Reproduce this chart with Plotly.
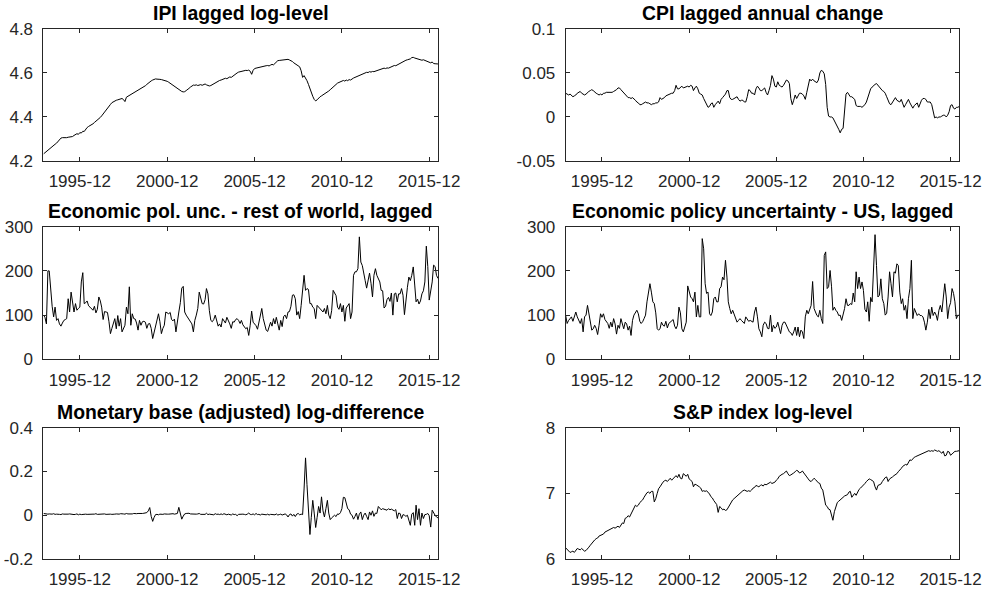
import plotly.graph_objects as go
import pandas as pd

# ---------------- data (monthly, 1993-11 .. 2016-06) ----------------
start_month = "1993-11-01"
n_months = 272
dates = pd.date_range(start_month, periods=n_months, freq="MS")

ipi = [4.232, 4.238,
       4.243, 4.249, 4.254, 4.260, 4.265, 4.270, 4.276, 4.281, 4.289, 4.297, 4.304, 4.306,
       4.305, 4.307, 4.306, 4.308, 4.309, 4.312, 4.311, 4.316, 4.322, 4.324, 4.321, 4.329,
       4.327, 4.335, 4.334, 4.344, 4.352, 4.357, 4.360, 4.364, 4.369, 4.375, 4.380, 4.386,
       4.389, 4.398, 4.405, 4.413, 4.420, 4.428, 4.437, 4.447, 4.457, 4.465, 4.470, 4.474,
       4.476, 4.478, 4.480, 4.482, 4.484, 4.479, 4.470, 4.490, 4.494, 4.498, 4.502, 4.506,
       4.510, 4.514, 4.518, 4.520, 4.525, 4.528, 4.532, 4.536, 4.542, 4.548, 4.555, 4.560,
       4.564, 4.568, 4.571, 4.573, 4.572, 4.570, 4.571, 4.570, 4.568, 4.569, 4.566, 4.562,
       4.558, 4.553, 4.548, 4.543, 4.538, 4.533, 4.528, 4.525, 4.520, 4.516, 4.514, 4.515,
       4.520, 4.524, 4.530, 4.536, 4.540, 4.545, 4.544, 4.546, 4.543, 4.545, 4.547, 4.544,
       4.548, 4.550, 4.546, 4.542, 4.541, 4.543, 4.547, 4.550, 4.556, 4.560, 4.563, 4.566,
       4.568, 4.570, 4.572, 4.576, 4.574, 4.579, 4.582, 4.580, 4.586, 4.590, 4.595, 4.600,
       4.604, 4.606, 4.609, 4.608, 4.610, 4.612, 4.611, 4.613, 4.608, 4.594, 4.612, 4.620,
       4.622, 4.624, 4.626, 4.628, 4.630, 4.629, 4.632, 4.633, 4.634, 4.632, 4.636, 4.639,
       4.637, 4.644, 4.652, 4.656, 4.657, 4.658, 4.659, 4.660, 4.658, 4.660, 4.662, 4.659,
       4.656, 4.652, 4.646, 4.642, 4.637, 4.634, 4.628, 4.610, 4.580, 4.588, 4.578, 4.565,
       4.548, 4.528, 4.508, 4.494, 4.480, 4.473, 4.478, 4.486, 4.492, 4.496, 4.500, 4.503,
       4.507, 4.512, 4.518, 4.524, 4.530, 4.536, 4.544, 4.549, 4.554, 4.557, 4.560, 4.561,
       4.566, 4.563, 4.568, 4.565, 4.570, 4.568, 4.574, 4.577, 4.580, 4.583, 4.586, 4.590,
       4.592, 4.595, 4.598, 4.600, 4.603, 4.602, 4.606, 4.604, 4.607, 4.606, 4.608, 4.612,
       4.614, 4.617, 4.619, 4.620, 4.622, 4.620, 4.623, 4.622, 4.626, 4.630, 4.632, 4.634,
       4.633, 4.637, 4.640, 4.645, 4.648, 4.652, 4.655, 4.658, 4.660, 4.662, 4.664, 4.670,
       4.671, 4.668, 4.666, 4.664, 4.661, 4.660, 4.658, 4.660, 4.657, 4.654, 4.652, 4.648,
       4.646, 4.650, 4.643, 4.642, 4.640, 4.641]

cpi = [0.027, 0.026,
       0.025, 0.026, 0.024, 0.023, 0.024, 0.025, 0.027, 0.028, 0.029, 0.027, 0.026, 0.025,
       0.026, 0.028, 0.029, 0.030, 0.031, 0.030, 0.028, 0.027, 0.026, 0.025, 0.026, 0.025,
       0.027, 0.027, 0.028, 0.028, 0.028, 0.028, 0.028, 0.029, 0.030, 0.031, 0.033, 0.033,
       0.031, 0.029, 0.027, 0.025, 0.023, 0.022, 0.022, 0.021, 0.022, 0.021, 0.019, 0.017,
       0.016, 0.014, 0.014, 0.015, 0.016, 0.017, 0.016, 0.016, 0.015, 0.014, 0.015, 0.015,
       0.016, 0.016, 0.017, 0.022, 0.020, 0.021, 0.022, 0.024, 0.025, 0.025, 0.026, 0.027,
       0.027, 0.030, 0.036, 0.032, 0.032, 0.034, 0.035, 0.033, 0.034, 0.034, 0.035, 0.034,
       0.036, 0.035, 0.030, 0.033, 0.035, 0.032, 0.027, 0.026, 0.025, 0.021, 0.018, 0.015,
       0.011, 0.012, 0.015, 0.016, 0.011, 0.014, 0.016, 0.018, 0.015, 0.020, 0.022, 0.024,
       0.026, 0.030, 0.030, 0.022, 0.020, 0.020, 0.021, 0.022, 0.023, 0.020, 0.018, 0.019,
       0.019, 0.017, 0.017, 0.023, 0.031, 0.030, 0.027, 0.027, 0.025, 0.032, 0.035, 0.033,
       0.030, 0.030, 0.031, 0.033, 0.028, 0.025, 0.030, 0.036, 0.047, 0.043, 0.035, 0.034,
       0.040, 0.036, 0.035, 0.034, 0.036, 0.039, 0.042, 0.041, 0.038, 0.021, 0.014, 0.019,
       0.025, 0.021, 0.024, 0.027, 0.027, 0.026, 0.024, 0.020, 0.028, 0.036, 0.043, 0.041,
       0.043, 0.041, 0.040, 0.039, 0.042, 0.050, 0.053, 0.052, 0.049, 0.037, 0.011, 0.001,
       0.000, 0.000, -0.001, -0.004, -0.007, -0.010, -0.014, -0.018, -0.014, -0.013, 0.005, 0.026,
       0.028, 0.026, 0.023, 0.023, 0.022, 0.020, 0.013, 0.012, 0.012, 0.012, 0.011, 0.012,
       0.014, 0.017, 0.021, 0.027, 0.032, 0.034, 0.036, 0.037, 0.038, 0.036, 0.034, 0.031,
       0.030, 0.029, 0.027, 0.023, 0.018, 0.015, 0.014, 0.017, 0.020, 0.022, 0.019, 0.018,
       0.017, 0.020, 0.015, 0.011, 0.014, 0.017, 0.020, 0.016, 0.012, 0.010, 0.013, 0.015,
       0.016, 0.011, 0.015, 0.019, 0.021, 0.021, 0.020, 0.017, 0.017, 0.017, 0.014, 0.008,
       -0.001, 0.000, -0.001, 0.000, 0.000, 0.001, 0.002, 0.002, 0.000, 0.002, 0.006, 0.013,
       0.014, 0.010, 0.009, 0.011, 0.011, 0.012]

epu_row = [100, 95,
           80, 200, 200, 150, 120, 96, 118, 88, 92, 80, 75, 82,
           88, 90, 92, 137, 107, 152, 130, 107, 126, 111, 115, 118,
           175, 196, 126, 128, 132, 121, 118, 113, 111, 120, 105, 113,
           141, 132, 118, 90, 108, 107, 106, 85, 58, 70, 80, 92,
           69, 99, 75, 92, 62, 70, 77, 118, 103, 164, 77, 103,
           92, 91, 82, 66, 88, 77, 85, 86, 84, 70, 80, 81,
           70, 47, 60, 75, 90, 103, 85, 58, 70, 77, 107, 105,
           103, 106, 90, 87, 91, 62, 90, 107, 128, 161, 165, 107,
           100, 95, 92, 85, 80, 62, 88, 100, 115, 152, 137, 126,
           125, 135, 160, 148, 110, 88, 85, 90, 100, 85, 75, 80,
           73, 92, 88, 82, 95, 89, 80, 70, 85, 84, 90, 92,
           88, 81, 88, 78, 74, 69, 72, 54, 77, 109, 84, 80,
           76, 68, 84, 100, 115, 92, 80, 66, 63, 76, 84, 75,
           92, 80, 95, 80, 66, 88, 74, 97, 100, 92, 107, 108,
           120, 145, 146, 137, 100, 108, 92, 122, 164, 190, 156, 160,
           158, 126, 126, 118, 115, 92, 122, 118, 116, 110, 107, 115,
           103, 122, 100, 92, 110, 156, 148, 144, 118, 113, 126, 107,
           122, 86, 116, 122, 126, 92, 107, 190, 198, 198, 205, 277,
           220, 212, 190, 178, 161, 182, 195, 172, 141, 190, 205, 190,
           182, 175, 156, 155, 116, 120, 135, 140, 131, 150, 100, 148,
           150, 130, 148, 148, 160, 145, 101, 140, 163, 186, 178, 190,
           209, 168, 130, 136, 125, 132, 148, 155, 175, 256, 210, 134,
           160, 175, 213, 210, 190, 183]

epu_us = [99, 81,
          88, 92, 96, 86, 95, 107, 96, 86, 81, 92, 62, 96,
          100, 122, 103, 85, 66, 69, 77, 70, 56, 77, 103, 95,
          103, 90, 84, 81, 70, 84, 73, 92, 80, 57, 77, 70,
          92, 77, 69, 84, 80, 66, 75, 54, 88, 100, 107, 111,
          103, 86, 81, 85, 92, 100, 130, 150, 171, 152, 130, 126,
          105, 69, 66, 69, 84, 77, 75, 86, 71, 81, 84, 88,
          90, 75, 69, 77, 118, 105, 69, 62, 72, 84, 166, 156,
          141, 137, 130, 152, 96, 122, 96, 96, 273, 250, 171, 149,
          152, 103, 99, 107, 137, 141, 130, 130, 160, 164, 186, 180,
          224, 186, 130, 115, 103, 111, 103, 96, 84, 88, 92, 88,
          84, 81, 96, 90, 86, 88, 86, 84, 107, 118, 96, 69,
          62, 51, 77, 84, 81, 70, 69, 100, 62, 77, 70, 73,
          84, 72, 58, 77, 84, 84, 77, 70, 62, 60, 54, 62,
          73, 54, 73, 51, 66, 62, 47, 96, 111, 103, 115, 122,
          176, 115, 107, 99, 96, 111, 92, 81, 235, 243, 160, 164,
          201, 164, 111, 118, 111, 107, 99, 100, 88, 100, 115, 137,
          122, 122, 126, 124, 150, 130, 198, 160, 186, 160, 175, 156,
          113, 107, 130, 86, 140, 130, 220, 282, 212, 141, 145, 182,
          137, 126, 100, 104, 141, 198, 171, 141, 198, 195, 216, 212,
          152, 126, 137, 111, 122, 92, 137, 160, 224, 92, 115, 107,
          99, 103, 99, 99, 96, 84, 66, 84, 113, 92, 118, 99,
          107, 100, 88, 111, 122, 107, 149, 171, 141, 92, 118, 128,
          160, 149, 130, 92, 100, 99]

mbase = [0.008, 0.006,
         0.007, 0.005, 0.006, 0.004, 0.005, 0.007, 0.004, 0.005, 0.006, 0.004, 0.003, 0.006,
         0.005, 0.004, 0.003, 0.005, 0.006, 0.004, 0.005, 0.003, 0.004, 0.006, 0.002, 0.005,
         0.003, 0.004, 0.006, 0.005, 0.004, 0.005, 0.006, 0.004, 0.005, 0.005, 0.007, 0.004,
         0.005, 0.006, 0.004, 0.005, 0.006, 0.004, 0.005, 0.007, 0.005, 0.004, 0.006, 0.005,
         0.006, 0.004, 0.005, 0.007, 0.005, 0.006, 0.005, 0.008, 0.006, 0.005, 0.007, 0.006,
         0.008, 0.006, 0.007, 0.008, 0.007, 0.006, 0.008, 0.009, 0.010, 0.012, 0.020, 0.035,
         -0.005, -0.028, -0.010, 0.003, 0.004, 0.002, 0.005, 0.003, 0.004, 0.006, 0.004, 0.005,
         0.005, 0.006, 0.004, 0.007, 0.005, 0.006, 0.008, 0.036, 0.005, -0.018, -0.004, 0.006,
         0.008, 0.010, 0.009, 0.006, 0.005, 0.007, 0.004, 0.005, 0.006, 0.008, 0.004, 0.005,
         0.006, 0.004, 0.009, 0.003, 0.005, 0.004, 0.006, 0.002, 0.007, 0.004, 0.005, 0.003,
         0.006, 0.003, 0.007, 0.004, 0.002, 0.005, 0.004, 0.001, 0.006, 0.003, 0.004, -0.002,
         0.004, 0.005, 0.003, 0.005, 0.004, 0.002, 0.005, 0.010, 0.004, 0.003, 0.006, 0.002,
         0.008, 0.003, 0.004, 0.001, 0.005, 0.003, 0.004, 0.002, 0.005, 0.001, 0.004, 0.003,
         0.004, 0.002, 0.006, 0.001, 0.003, 0.005, 0.001, 0.004, 0.006, 0.002, -0.008, 0.003,
         0.006, -0.004, 0.004, -0.006, 0.005, 0.008, 0.002, 0.005, 0.003, 0.120, 0.262, 0.140,
         0.020, -0.088, -0.010, 0.068, 0.010, -0.056, -0.010, 0.040, 0.010, 0.084, 0.020, -0.008,
         0.030, 0.068, 0.010, -0.020, -0.012, -0.004, 0.000, -0.006, 0.006, 0.004, 0.012, 0.030,
         0.082, 0.080, 0.050, 0.030, 0.025, 0.005, 0.000, -0.018, -0.005, 0.010, -0.020, 0.005,
         0.015, -0.020, 0.000, 0.010, -0.005, -0.020, 0.015, 0.000, 0.020, -0.005, 0.010, 0.008,
         0.040, 0.030, 0.025, 0.030, 0.028, 0.025, 0.023, 0.030, 0.025, 0.028, 0.025, 0.020,
         0.026, -0.015, 0.010, 0.008, -0.015, 0.003, 0.000, -0.005, 0.000, -0.025, -0.046, 0.005,
         0.012, -0.046, 0.046, -0.020, 0.030, -0.046, 0.010, -0.015, 0.003, 0.004, 0.008, -0.002,
         -0.054, 0.023, 0.010, 0.000, -0.008, -0.012]

sp = [6.17, 6.15,
      6.12, 6.10, 6.11, 6.12, 6.10, 6.13, 6.16, 6.15, 6.14, 6.16, 6.13, 6.12,
      6.13, 6.15, 6.18, 6.21, 6.24, 6.26, 6.29, 6.31, 6.32, 6.35, 6.36, 6.38,
      6.38, 6.41, 6.42, 6.43, 6.45, 6.46, 6.47, 6.48, 6.47, 6.49, 6.50, 6.48,
      6.52, 6.55, 6.54, 6.62, 6.63, 6.66, 6.64, 6.69, 6.74, 6.77, 6.82, 6.80,
      6.82, 6.86, 6.88, 6.90, 6.94, 6.98, 7.01, 7.02, 7.00, 7.03, 7.03, 6.87,
      6.92, 7.00, 7.07, 7.10, 7.14, 7.17, 7.19, 7.20, 7.18, 7.21, 7.23, 7.20,
      7.22, 7.25, 7.27, 7.24, 7.29, 7.23, 7.22, 7.30, 7.27, 7.26, 7.29, 7.22,
      7.20, 7.18, 7.10, 7.14, 7.13, 7.12, 7.10, 7.08, 7.03, 7.04, 7.03, 7.04,
      7.02, 6.99, 6.95, 6.93, 6.89, 6.85, 6.83, 6.71, 6.80, 6.78, 6.75, 6.76,
      6.74, 6.75, 6.79, 6.83, 6.87, 6.90, 6.92, 6.94, 6.96, 6.99, 7.01, 7.03,
      7.04, 7.05, 7.04, 7.03, 7.04, 7.03, 7.05, 7.08, 7.09, 7.12, 7.11, 7.10,
      7.12, 7.13, 7.11, 7.14, 7.13, 7.14, 7.16, 7.17, 7.15, 7.16, 7.17, 7.20,
      7.22, 7.26, 7.28, 7.29, 7.30, 7.32, 7.34, 7.30, 7.27, 7.28, 7.29, 7.31,
      7.33, 7.35, 7.34, 7.31, 7.32, 7.34, 7.31, 7.27, 7.25, 7.22, 7.19, 7.18,
      7.20, 7.23, 7.21, 7.18, 7.16, 7.15, 7.08, 7.05, 6.92, 6.82, 6.80, 6.76,
      6.75, 6.66, 6.59, 6.72, 6.80, 6.86, 6.88, 6.90, 6.93, 6.95, 6.96, 6.97,
      6.98, 7.02, 7.03, 6.94, 6.97, 7.00, 6.97, 7.02, 7.06, 7.08, 7.10, 7.13,
      7.15, 7.18, 7.20, 7.22, 7.21, 7.19, 7.18, 7.10, 7.05, 7.12, 7.13, 7.14,
      7.18, 7.21, 7.24, 7.25, 7.18, 7.22, 7.23, 7.25, 7.27, 7.28, 7.30, 7.33,
      7.35, 7.38, 7.41, 7.42, 7.44, 7.43, 7.48, 7.51, 7.50, 7.53, 7.55, 7.56,
      7.57, 7.58, 7.58, 7.60, 7.61, 7.62, 7.63, 7.63, 7.65, 7.64, 7.65, 7.64,
      7.66, 7.65, 7.64, 7.65, 7.63, 7.61, 7.64, 7.57, 7.58, 7.64, 7.63, 7.58,
      7.60, 7.63, 7.64, 7.64, 7.65, 7.65]

titles = ["IPI lagged log-level", "CPI lagged annual change",
          "Economic pol. unc. - rest of world, lagged", "Economic policy uncertainty - US, lagged",
          "Monetary base (adjusted) log-difference", "S&P index log-level"]

x_tick_vals = ["1995-12-01", "2000-12-01", "2005-12-01", "2010-12-01", "2015-12-01"]
x_tick_text = ["1995-12", "2000-12", "2005-12", "2010-12", "2015-12"]

y_ranges = [[4.2, 4.8], [-0.05, 0.1], [0, 300], [0, 300], [-0.2, 0.4], [6, 8]]
y_tick_vals = [[4.2, 4.4, 4.6, 4.8], [-0.05, 0, 0.05, 0.1], [0, 100, 200, 300],
               [0, 100, 200, 300], [-0.2, 0, 0.2, 0.4], [6, 7, 8]]
y_tick_text = [["4.2", "4.4", "4.6", "4.8"], ["-0.05", "0", "0.05", "0.1"],
               ["0", "100", "200", "300"], ["0", "100", "200", "300"],
               ["-0.2", "0", "0.2", "0.4"], ["6", "7", "8"]]

series = [ipi, cpi, epu_row, epu_us, mbase, sp]

# ---------------- layout geometry ----------------
col_domains = [[0.0442, 0.4451], [0.5749, 0.9749]]
row_domains = [[0.7267, 0.9508], [0.3900, 0.6151], [0.0509, 0.2739]]

AXC = "#262626"
FONT = "Liberation Sans, Arial, Helvetica, sans-serif"
TICK_SIZE = 17

fig = go.Figure()
layout = dict(width=984, height=589, margin=dict(l=0, r=0, t=0, b=0, autoexpand=False),
              paper_bgcolor="white", plot_bgcolor="white", showlegend=False,
              font=dict(family=FONT, size=TICK_SIZE, color=AXC))
annotations = []
for k, vals in enumerate(series):
    r, c = divmod(k, 2)
    ax = "" if k == 0 else str(k + 1)
    fig.add_trace(go.Scatter(x=dates, y=vals, mode="lines",
                             line=dict(color="black", width=1),
                             xaxis="x" + ax, yaxis="y" + ax, hoverinfo="skip"))
    layout["xaxis" + ax] = dict(
        domain=col_domains[c], anchor="y" + ax, type="date", automargin=False,
        range=[dates[0], dates[-1]], tickmode="array",
        tickvals=x_tick_vals, ticktext=x_tick_text,
        showline=True, linecolor=AXC, linewidth=1, mirror="ticks",
        ticks="inside", ticklen=4, tickwidth=1, tickcolor=AXC,
        showgrid=False, zeroline=False, ticklabelstandoff=5,
        tickfont=dict(family=FONT, size=TICK_SIZE, color=AXC))
    layout["yaxis" + ax] = dict(
        domain=row_domains[r], anchor="x" + ax, automargin=False,
        range=y_ranges[k], tickmode="array",
        tickvals=y_tick_vals[k], ticktext=y_tick_text[k],
        showline=True, linecolor=AXC, linewidth=1, mirror="ticks",
        ticks="inside", ticklen=4, tickwidth=1, tickcolor=AXC,
        showgrid=False, zeroline=False, ticklabelstandoff=6,
        tickfont=dict(family=FONT, size=TICK_SIZE, color=AXC))
    annotations.append(dict(
        text="<b>" + titles[k] + "</b>", xref="paper", yref="paper",
        x=sum(col_domains[c]) / 2, y=row_domains[r][1],
        xanchor="center", yanchor="bottom", yshift=3, showarrow=False,
        font=dict(family=FONT, size=19.4, color="black")))
layout["annotations"] = annotations
fig.update_layout(**layout)
fig.write_html("out.html", config={"displayModeBar": False, "staticPlot": True},
               post_script="document.body.style.margin='0';document.body.style.overflow='hidden';")
